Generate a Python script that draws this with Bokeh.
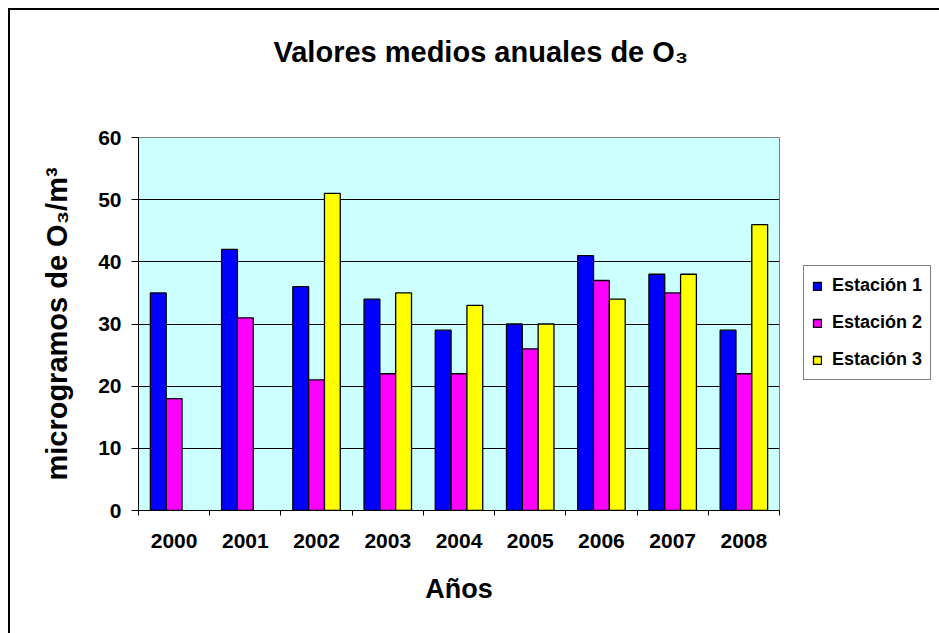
import math
from bokeh.plotting import figure
from bokeh.models import Range1d, FixedTicker, Legend, LegendItem, Title
from bokeh.embed import file_html
from bokeh.resources import INLINE

# ---- data ----
years = ["2000", "2001", "2002", "2003", "2004", "2005", "2006", "2007", "2008"]
estacion1 = [35, 42, 36, 34, 29, 30, 41, 38, 29]
estacion2 = [18, 31, 21, 22, 22, 26, 37, 35, 22]
estacion3 = [math.nan, math.nan, 51, 35, 33, 30, 34, 38, 46]
series_names = ["Estación 1", "Estación 2", "Estación 3"]
series_colors = ["#0000FF", "#FF00FF", "#FFFF00"]
y_ticks = [0, 10, 20, 30, 40, 50, 60]
title_text = "Valores medios anuales de O₃"
x_title = "Años"
y_title = "microgramos de O₃/m³"

FONT = "Liberation Sans"
n = len(years)
bar_w = 2 / 9
offsets = [-bar_w, 0.0, bar_w]

p = figure(frame_width=641, frame_height=373,
           x_range=Range1d(0, n), y_range=Range1d(y_ticks[0], y_ticks[-1]),
           output_backend="svg", toolbar_location=None, tools="",
           min_border_left=128, min_border_right=160,
           min_border_top=126, min_border_bottom=124,
           background_fill_color="#CCFFFF", border_fill_color="white",
           outline_line_color="#808080", outline_line_width=1,
           styles={"margin-left": "8px", "margin-top": "8px",
                   "border-left": "2px solid black", "border-top": "2px solid black"})

renderers = []
for vals, off, col in zip([estacion1, estacion2, estacion3], offsets, series_colors):
    xs = [i + 0.5 + off for i in range(n)]
    r = p.vbar(x=xs, top=vals, width=bar_w, bottom=0,
               fill_color=col, line_color="black", line_width=1.3)
    renderers.append(r)

# spacer between frame and title, then the title (outermost)
spacer = Title(text=" ", text_font=FONT, text_font_size="10px", standoff=34)
p.add_layout(spacer, "above")
main_title = Title(text=title_text, align="left", offset=135, standoff=46,
                   text_font=FONT, text_font_style="bold", text_font_size="29px",
                   text_color="black")
p.add_layout(main_title, "above")

# x axis
xa = p.xaxis[0]
xa.ticker = FixedTicker(ticks=[i + 0.5 for i in range(n)], minor_ticks=list(range(n + 1)))
xa.major_label_overrides = {i + 0.5: years[i] for i in range(n)}
xa.major_tick_line_color = None
xa.major_tick_out = 5
xa.major_tick_in = 0
xa.minor_tick_out = 5
xa.minor_tick_in = 0
xa.minor_tick_line_color = "black"
xa.axis_line_color = "black"
xa.major_label_text_font = FONT
xa.major_label_text_font_style = "bold"
xa.major_label_text_font_size = "21px"
xa.major_label_text_color = "black"
xa.major_label_standoff = 18
xa.axis_label = x_title
xa.axis_label_text_font = FONT
xa.axis_label_text_font_style = "bold"
xa.axis_label_text_font_size = "27px"
xa.axis_label_text_color = "black"
xa.axis_label_standoff = 23

# y axis
ya = p.yaxis[0]
ya.ticker = FixedTicker(ticks=y_ticks)
ya.major_tick_out = 7
ya.major_tick_in = 0
ya.minor_tick_line_color = None
ya.axis_line_color = "black"
ya.major_tick_line_color = "black"
ya.major_label_text_font = FONT
ya.major_label_text_font_style = "bold"
ya.major_label_text_font_size = "21px"
ya.major_label_text_color = "black"
ya.major_label_standoff = 10
ya.axis_label = y_title
ya.axis_label_text_font = FONT
ya.axis_label_text_font_style = "bold"
ya.axis_label_text_font_size = "29px"
ya.axis_label_text_color = "black"
ya.axis_label_standoff = 22

p.xgrid.visible = False
p.ygrid.ticker = FixedTicker(ticks=y_ticks[1:-1])
p.ygrid.grid_line_color = "black"
p.ygrid.grid_line_width = 1

# legend
legend = Legend(items=[LegendItem(label=nm, renderers=[r]) for nm, r in zip(series_names, renderers)],
                location=(24, 130), margin=0, padding=8, spacing=14,
                glyph_width=10, glyph_height=10, label_height=23, label_standoff=10,
                label_text_font=FONT, label_text_font_style="bold", label_text_font_size="18px",
                label_text_color="black",
                border_line_color="black", border_line_width=1,
                background_fill_color="white", background_fill_alpha=1)
p.add_layout(legend, "right")

open("out.html", "w").write(file_html(p, INLINE))
